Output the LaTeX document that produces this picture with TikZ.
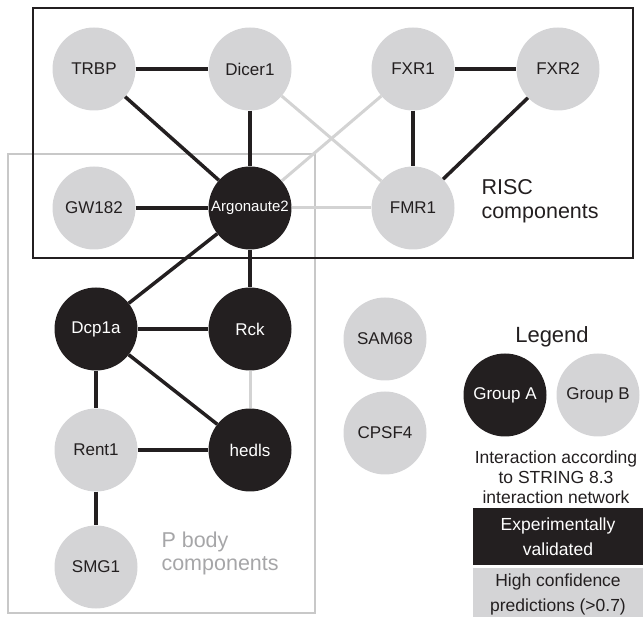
\documentclass[tikz,border=0pt]{standalone}
\usepackage{fontspec}
\setmainfont{Liberation Sans}
\definecolor{protgray}{HTML}{D4D4D6}
\definecolor{protblack}{HTML}{231F20}
\definecolor{linkgray}{HTML}{D3D3D3}
\definecolor{framegray}{HTML}{C8C8C8}
\definecolor{labelgray}{HTML}{A6A6A8}

\begin{document}
\begin{tikzpicture}[x=1pt,y=-1pt,
    groupa/.style={circle,fill=protblack,text=white,minimum size=83pt,inner sep=0pt,font=\fontsize{17}{20}\selectfont},
    groupb/.style={circle,fill=protgray,text=protblack,minimum size=83pt,inner sep=0pt,font=\fontsize{17}{20}\selectfont},
    expt/.style={line width=3.5pt,draw=protblack},
    pred/.style={line width=3pt,draw=linkgray},
    legendbox/.style={rectangle,minimum width=170pt,inner sep=0pt,align=center,font=\fontsize{17.5}{25}\selectfont}]
  \useasboundingbox (0,0) rectangle (643,617);
  \draw[framegray,line width=1.5pt] (8,154) rectangle (315,613);
  \draw[protblack,line width=1.5pt] (33,8) rectangle (633,258);

  \node[groupb] (trbp) at (94,69) {TRBP};
  \node[groupb] (dicer) at (250,69) {Dicer1};
  \node[groupb] (fxra) at (413,69) {FXR1};
  \node[groupb] (fxrb) at (558,69) {FXR2};
  \node[groupb] (gw) at (94,208) {GW182};
  \node[groupa,font=\fontsize{15}{18}\selectfont] (ago) at (250,208) {Argonaute2};
  \node[groupb] (fmr) at (413,208) {FMR1};
  \node[groupa] (dcp) at (96,329) {Dcp1a};
  \node[groupa] (rck) at (250,329) {Rck};
  \node[groupb] (rent) at (96,450) {Rent1};
  \node[groupa] (hedls) at (250,450) {hedls};
  \node[groupb] (smg) at (96,567) {SMG1};
  \node[groupb] (sam) at (385,339) {SAM68};
  \node[groupb] (cpsf) at (385,433) {CPSF4};

  \node[anchor=west,align=left,text=protblack,font=\fontsize{21.5}{24}\selectfont] (risc) at (478,201) {RISC\\components};
  \node[anchor=west,align=left,text=labelgray,font=\fontsize{21.5}{23}\selectfont] (pbody) at (158,553) {P body\\components};

  % legend
  \node[text=protblack,font=\fontsize{22}{26}\selectfont] (legend) at (552,337) {Legend};
  \node[groupa] (grpa) at (505,395) {Group A};
  \node[groupb] (grpb) at (598,395) {Group B};
  \node[align=center,text=protblack,font=\fontsize{17.5}{20}\selectfont] (string) at (556,477) {Interaction according\\to STRING 8.3\\interaction network};
  \node[legendbox,fill=protblack,text=white,minimum height=57pt] (exptbox) at (558,536.5) {Experimentally\\validated};
  \node[legendbox,fill=protgray,text=protblack,minimum height=52pt,anchor=north] (predbox) at (558,568) {High confidence\\predictions (>0.7)};

  \draw[expt] (trbp) -- (dicer);
  \draw[expt] (trbp) -- (ago);
  \draw[expt] (dicer) -- (ago);
  \draw[expt] (gw) -- (ago);
  \draw[expt] (fxra) -- (fxrb);
  \draw[expt] (fxra) -- (fmr);
  \draw[expt] (fxrb) -- (fmr);
  \draw[expt] (ago) -- (dcp);
  \draw[expt] (ago) -- (rck);
  \draw[expt] (dcp) -- (rck);
  \draw[expt] (dcp) -- (hedls);
  \draw[expt] (dcp) -- (rent);
  \draw[expt] (rent) -- (hedls);
  \draw[expt] (rent) -- (smg);
  \draw[pred] (dicer) -- (fmr);
  \draw[pred] (fxra) -- (ago);
  \draw[pred] (ago) -- (fmr);
  \draw[pred] (rck) -- (hedls);
\end{tikzpicture}
\end{document}
